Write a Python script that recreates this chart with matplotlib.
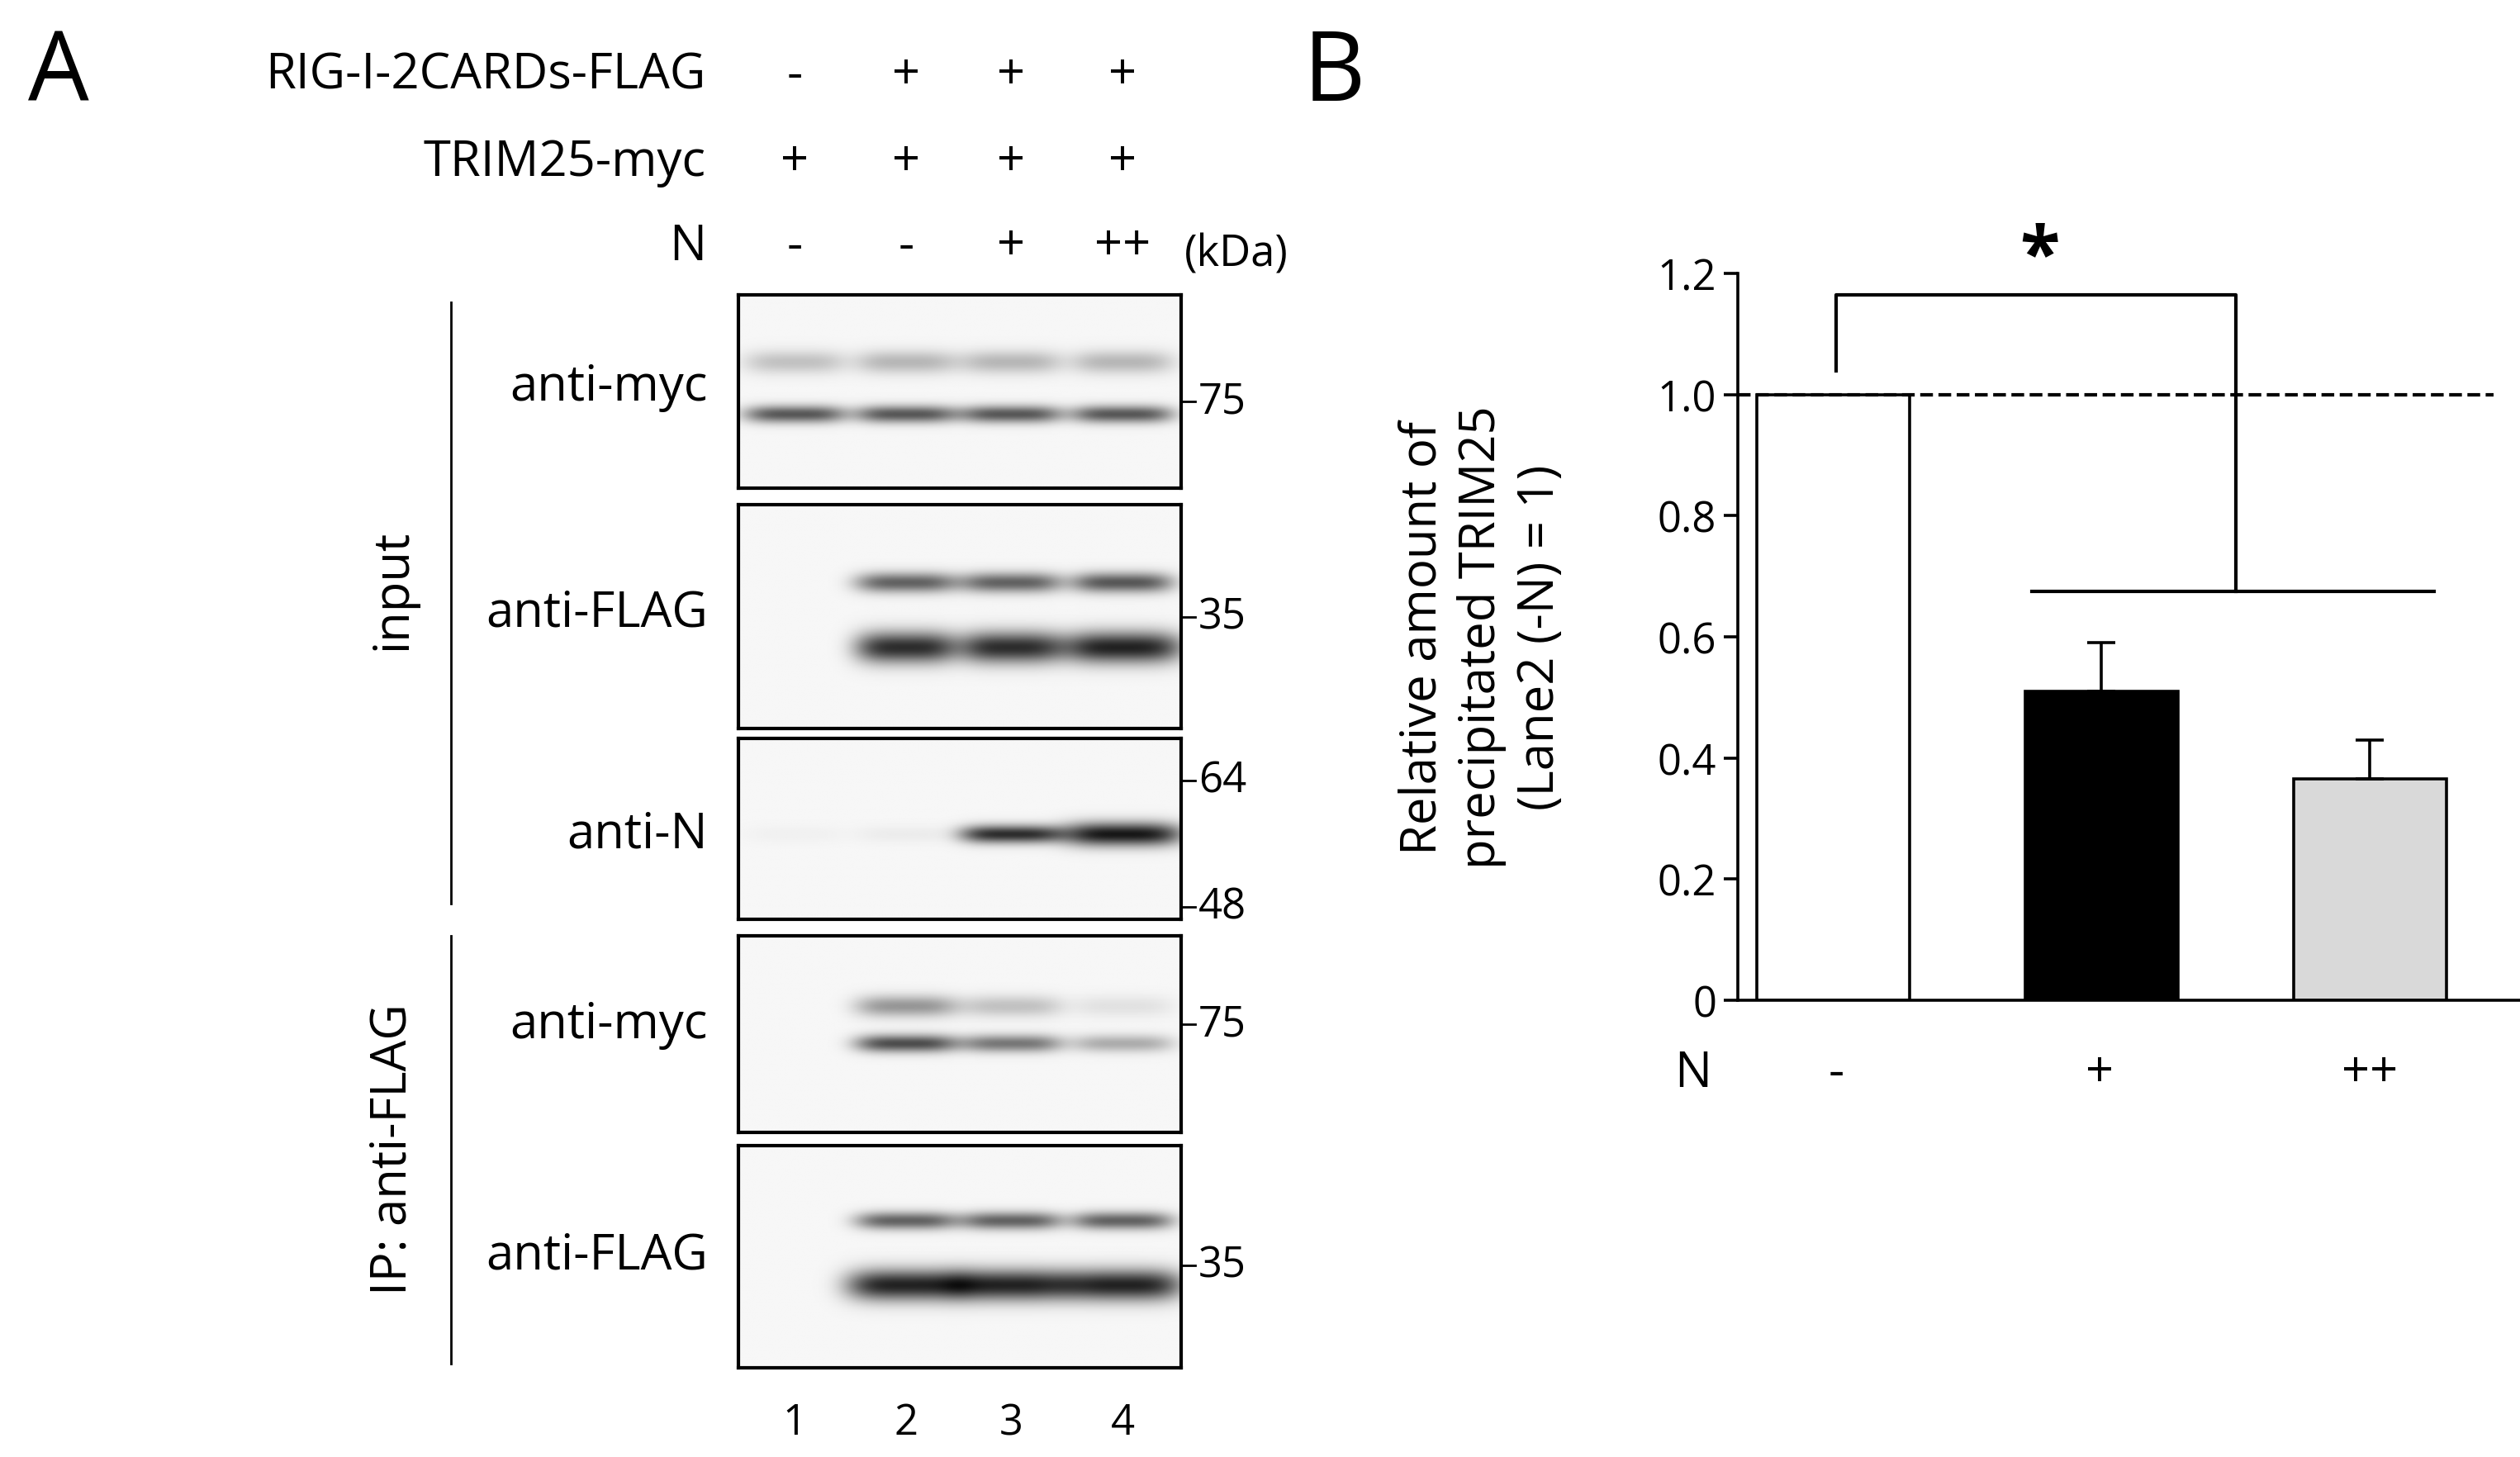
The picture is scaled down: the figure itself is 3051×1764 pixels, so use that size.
import numpy as np
import matplotlib
matplotlib.use("Agg")
import matplotlib.pyplot as plt

plt.rcParams['font.family'] = ['Open Sans', 'DejaVu Sans']

# ---------------- data ----------------
lanes = [1, 2, 3, 4]
rig_row = ['-', '+', '+', '+']
trim_row = ['+', '+', '+', '+']
n_row = ['-', '-', '+', '++']

blot_labels = ['anti-myc', 'anti-FLAG', 'anti-N', 'anti-myc', 'anti-FLAG']
blot_bands = [
    [(0.35, 0.06, [0.25, 0.3, 0.3, 0.3]), (0.62, 0.045, [0.75, 0.75, 0.75, 0.75])],
    [(0.35, 0.045, [0.0, 0.7, 0.7, 0.75]), (0.64, 0.07, [0.0, 0.95, 0.95, 1.0])],
    [(0.53, 0.05, [0.03, 0.05, 0.95, 1.05])],
    [(0.36, 0.055, [0.0, 0.45, 0.25, 0.1]), (0.55, 0.045, [0.0, 0.8, 0.6, 0.35])],
    [(0.34, 0.04, [0.0, 0.7, 0.7, 0.7]), (0.63, 0.07, [0.0, 1.0, 1.0, 1.0])],
]
kda_marks = [[('75', 0.55)], [('35', 0.5)], [('64', 0.23), ('48', 0.93)],
             [('75', 0.45)], [('35', 0.54)]]

groups = ['-', '+', '++']
values = [1.0, 0.51, 0.365]
errors = [0.0, 0.08, 0.065]
bar_colors = ['white', 'black', '#d9d9d9']

# ---------------- figure ----------------
W, H = 1560, 903
fig = plt.figure(figsize=(15.255, 8.825), dpi=200)
ov = fig.add_axes([0, 0, 1, 1])
ov.set_xlim(0, W); ov.set_ylim(H, 0); ov.axis('off')

def rect(x0, y0, x1, y1):
    return [x0 / W, 1 - y1 / H, (x1 - x0) / W, (y1 - y0) / H]

fs = 21.5
ov.text(36, 47, 'A', fontsize=42, ha='center', va='center')
ov.text(826, 47, 'B', fontsize=42, ha='center', va='center')

lane_x = [492, 561, 626, 695]
for lbl, row, y in [('RIG-I-2CARDs-FLAG', rig_row, 47), ('TRIM25-myc', trim_row, 101), ('N', n_row, 153)]:
    ov.text(437, y, lbl, fontsize=fs, ha='right', va='center')
    for x, s in zip(lane_x, row):
        ov.text(x, y, s, fontsize=fs, ha='center', va='center')
ov.text(733, 158, '(kDa)', fontsize=fs * 0.88, ha='left', va='center')

boxes = [(183, 303), (313, 452), (458, 570), (580, 702), (710, 848)]
label_y = [240, 380, 517, 635, 778]
bx0, bx1 = 457, 731
ny, nx = 200, 400
yy = np.linspace(0, 1, ny)[:, None]
xx = np.linspace(0, 1, nx)[None, :]
lane_c = [(lx - bx0) / (bx1 - bx0) for lx in lane_x]
for i, ((y0, y1), bands) in enumerate(zip(boxes, blot_bands)):
    ax = fig.add_axes(rect(bx0, y0, bx1, y1))
    img = np.full((ny, nx), 0.04)
    for (yc, sg, ints) in bands:
        for c, v in zip(lane_c, ints):
            hw = 0.115 if v < 1.0 else 0.135
            prof_x = np.exp(-((xx - c) / hw) ** 4)
            sgy = sg * (1.3 if v > 1.0 else 1.0)
            prof_y = np.exp(-((yy - yc) / sgy) ** 2)
            img += v * prof_x * prof_y
    ax.imshow(img, cmap='gray_r', vmin=0, vmax=1.2, aspect='auto', interpolation='bilinear')
    ax.set_xticks([]); ax.set_yticks([])
    for sp in ax.spines.values():
        sp.set_linewidth(1.5)
    ov.text(438, label_y[i], blot_labels[i], fontsize=fs, ha='right', va='center')
    for lab, f in kda_marks[i]:
        yk = y0 + f * (y1 - y0)
        ov.plot([731, 740], [yk, yk], color='black', lw=1)
        ov.text(742, yk, lab, fontsize=fs * 0.85, ha='left', va='center')

ov.plot([279, 279], [188, 560], color='black', lw=1)
ov.plot([279, 279], [580, 845], color='black', lw=1)
ov.text(243, 365, 'input', fontsize=fs, rotation=90, ha='center', va='center')
ov.text(243, 712, 'IP: anti-FLAG', fontsize=fs, rotation=90, ha='center', va='center')
for x, n in zip(lane_x, lanes):
    ov.text(x, 882, str(n), fontsize=fs * 0.85, ha='center', va='center')

# ---------------- panel B ----------------
px0, px1 = 1076, 1560
axb = fig.add_axes(rect(px0, 170, px1, 620))
xpos = np.arange(len(groups))
axb.bar(xpos, values, width=0.57, color=bar_colors, edgecolor='black', linewidth=1.3)
axb.errorbar(xpos[1:], values[1:], yerr=[[0, 0], errors[1:]], fmt='none',
             ecolor='black', elinewidth=1.3, capsize=6, capthick=1.3)
axb.set_ylim(0, 1.2)
axb.set_xlim(-0.355, 2.56)
axb.axhline(1.0, xmin=0, xmax=(2.46 + 0.355) / (2.56 + 0.355), color='black', ls='--', lw=1.5)
axb.set_yticks([0, 0.2, 0.4, 0.6, 0.8, 1.0, 1.2])
axb.set_yticklabels(['0', '0.2', '0.4', '0.6', '0.8', '1.0', '1.2'], fontsize=fs * 0.85)
axb.set_xticks([])
for s in ['top', 'right']:
    axb.spines[s].set_visible(False)
axb.spines['left'].set_linewidth(1.3)
axb.spines['bottom'].set_linewidth(1.3)
axb.tick_params(axis='y', direction='out', length=6, width=1.3)
axb.set_ylabel('Relative amount of\nprecipitated TRIM25\n(Lane2 (-N) = 1)', fontsize=fs, labelpad=40,
               linespacing=1.25)
axb.plot([0.01, 0.01, 1.5, 1.5], [1.04, 1.165, 1.165, 0.675], color='black', lw=1.5, clip_on=False)
axb.plot([0.74, 2.24], [0.675, 0.675], color='black', lw=1.5, clip_on=False)
axb.text(0.77, 1.225, '*', fontsize=32, ha='center', va='center', fontweight='bold')

ov.text(1048, 665, 'N', fontsize=fs, ha='center', va='center')
for x, g in zip([1137, 1300, 1467], groups):
    ov.text(x, 665, g, fontsize=fs, ha='center', va='center')

fig.savefig('out.png', dpi=200)
